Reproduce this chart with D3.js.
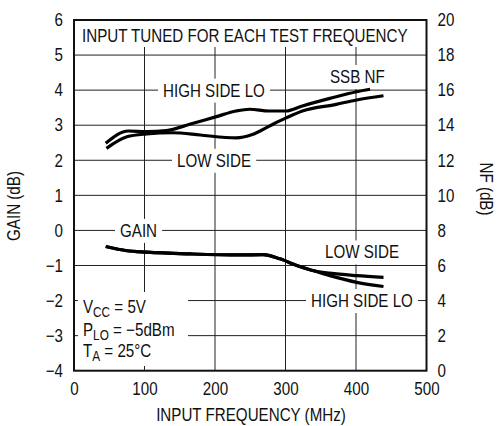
<!DOCTYPE html>
<html><head><meta charset="utf-8">
<script src="https://cdn.jsdelivr.net/npm/d3@7"></script>
<style>
html,body{margin:0;padding:0;background:#fff;}
text{font-family:"Liberation Sans",Arial,sans-serif;fill:#111;}
</style></head>
<body><svg id="c" width="498" height="426"></svg>
<script>
// ---- data ----
const xTicks = [0, 100, 200, 300, 400, 500];
const gainTicks = [-4, -3, -2, -1, 0, 1, 2, 3, 4, 5, 6];
const nfTicks = [0, 2, 4, 6, 8, 10, 12, 14, 16, 18, 20];

const nfHighFreq = [45, 77, 103, 131, 164, 202, 230, 249, 277, 301, 324, 363, 401, 420];
const nfHigh     = [12.97, 13.67, 13.63, 13.69, 14.05, 14.49, 14.81, 14.91, 14.81, 14.81, 15.1, 15.53, 15.91, 16.05];
const nfLowFreq  = [46, 75, 103, 140, 179, 215, 230, 253, 277, 291, 301, 324, 372, 401, 439];
const nfLow      = [12.68, 13.34, 13.5, 13.57, 13.44, 13.3, 13.28, 13.47, 13.95, 14.23, 14.42, 14.81, 15.19, 15.44, 15.68];

const gainFreq = [45, 75, 103, 165, 235, 268, 292, 316, 340, 363, 401, 439];
const gainLow  = [-0.46, -0.58, -0.62, -0.67, -0.70, -0.69, -0.81, -1.0, -1.15, -1.22, -1.29, -1.34];
const gainHigh = [-0.46, -0.58, -0.62, -0.67, -0.70, -0.69, -0.81, -1.0, -1.15, -1.29, -1.48, -1.60];

// ---- layout ----
const L = 74, R = 426.5, T = 20, B = 370.7;
const svg = d3.select("#c");
const x = d3.scaleLinear().domain([0, 500]).range([L, R]);
const yG = d3.scaleLinear().domain([-4, 6]).range([B, T]);
const yN = d3.scaleLinear().domain([0, 20]).range([B, T]);
const FS = 18;

// horizontal compression (imitates a condensed face) about the text's x anchor
let K = 0.84;
function squeeze(t) {
  const ax0 = +t.attr("x") || 0;
  const prev = t.attr("transform") || "";
  t.attr("transform", `${prev} translate(${ax0},0) scale(${K},1) translate(${-ax0},0)`);
  return t;
}

// gridlines
const grid = svg.append("g").attr("stroke", "#222").attr("stroke-width", 1);
grid.selectAll("line.v").data(xTicks.slice(1, -1)).join("line")
  .attr("x1", d => x(d)).attr("x2", d => x(d)).attr("y1", T).attr("y2", B);
grid.selectAll("line.h").data(gainTicks.slice(1, -1)).join("line")
  .attr("x1", L).attr("x2", R).attr("y1", d => yG(d)).attr("y2", d => yG(d));

// title box (compression factor from title's target width)
svg.append("rect").attr("x", L + 1).attr("y", T + 1).attr("width", R - L - 2).attr("height", 26).attr("fill", "#fff");
const title = svg.append("text").attr("x", 82).attr("y", 42).attr("font-size", FS).text("INPUT TUNED FOR EACH TEST FREQUENCY");
K = 326 / title.node().getComputedTextLength();
squeeze(title);

// axes (labels only)
const ax = svg.append("g");
const bottom = d3.axisBottom(x).tickValues(xTicks).tickSize(0).tickPadding(12);
ax.append("g").attr("transform", `translate(0,${B})`).call(bottom);
const left = d3.axisLeft(yG).tickValues(gainTicks).tickSize(0).tickPadding(11);
ax.append("g").attr("transform", `translate(${L},0)`).call(left);
const right = d3.axisRight(yN).tickValues(nfTicks).tickSize(0).tickPadding(11);
ax.append("g").attr("transform", `translate(${R},0)`).call(right);
ax.selectAll(".domain").remove();
ax.selectAll("g").attr("font-family", null).attr("font-size", null);
ax.selectAll("text").attr("font-size", FS).style("fill", "#111").each(function () { squeeze(d3.select(this)); });

// label helper with white background
function label(txt, x0, y0, opts = {}) {
  const g = svg.append("g");
  const r = g.append("rect").attr("fill", "#fff");
  const t = g.append("text").attr("x", x0).attr("y", y0).attr("font-size", FS)
    .attr("dy", opts.dy || "0.36em").text(txt);
  const bb = t.node().getBBox();
  squeeze(t);
  const px = opts.px == null ? 5 : opts.px, py = opts.py == null ? 2 : opts.py;
  r.attr("x", bb.x - px).attr("y", bb.y - py).attr("width", bb.width * K + 2 * px).attr("height", bb.height + 2 * py);
  return g;
}

label("HIGH SIDE LO", 163, yG(4));
label("SSB NF", 330, 76.5);
label("LOW SIDE", 177, yG(2));
label("GAIN", 120, yG(0));
label("LOW SIDE", 325, 252);
label("HIGH SIDE LO", 311, yG(-2));

// conditions box
svg.append("rect").attr("x", 78).attr("y", 292).attr("width", 110).attr("height", 74).attr("fill", "#fff");
const cond = [["V", "CC", " = 5V", 313], ["P", "LO", " = \u22125dBm", 336], ["T", "A", " = 25°C", 357]];
cond.forEach(c => {
  const t = svg.append("text").attr("x", 83).attr("y", c[3]).attr("font-size", FS);
  t.append("tspan").text(c[0]);
  t.append("tspan").attr("font-size", 14).attr("dy", 4).text(c[1]);
  t.append("tspan").attr("dy", -4).text(c[2]);
  squeeze(t);
});

// frame
svg.append("rect").attr("x", L).attr("y", T).attr("width", R - L).attr("height", B - T)
  .attr("fill", "none").attr("stroke", "#111").attr("stroke-width", 2);

// curves
const lineN = d3.line().x(d => x(d[0])).y(d => yN(d[1])).curve(d3.curveMonotoneX);
const lineG = d3.line().x(d => x(d[0])).y(d => yG(d[1])).curve(d3.curveMonotoneX);
const curves = svg.append("g").attr("fill", "none").attr("stroke", "#000").attr("stroke-width", 3.2);
curves.append("path").attr("d", lineN(d3.zip(nfHighFreq, nfHigh)));
curves.append("path").attr("d", lineN(d3.zip(nfLowFreq, nfLow)));
curves.append("path").attr("d", lineG(d3.zip(gainFreq, gainLow)));
curves.append("path").attr("d", lineG(d3.zip(gainFreq, gainHigh)));

// axis titles
squeeze(svg.append("text").attr("transform", "translate(20,206) rotate(-90)").attr("text-anchor", "middle")
  .attr("font-size", FS).text("GAIN (dB)"));
squeeze(svg.append("text").attr("transform", "translate(479.5,189) rotate(90)").attr("text-anchor", "middle")
  .attr("font-size", FS).text("NF (dB)"));
squeeze(svg.append("text").attr("x", 251).attr("y", 421).attr("text-anchor", "middle")
  .attr("font-size", FS).text("INPUT FREQUENCY (MHz)"));
</script></body></html>
